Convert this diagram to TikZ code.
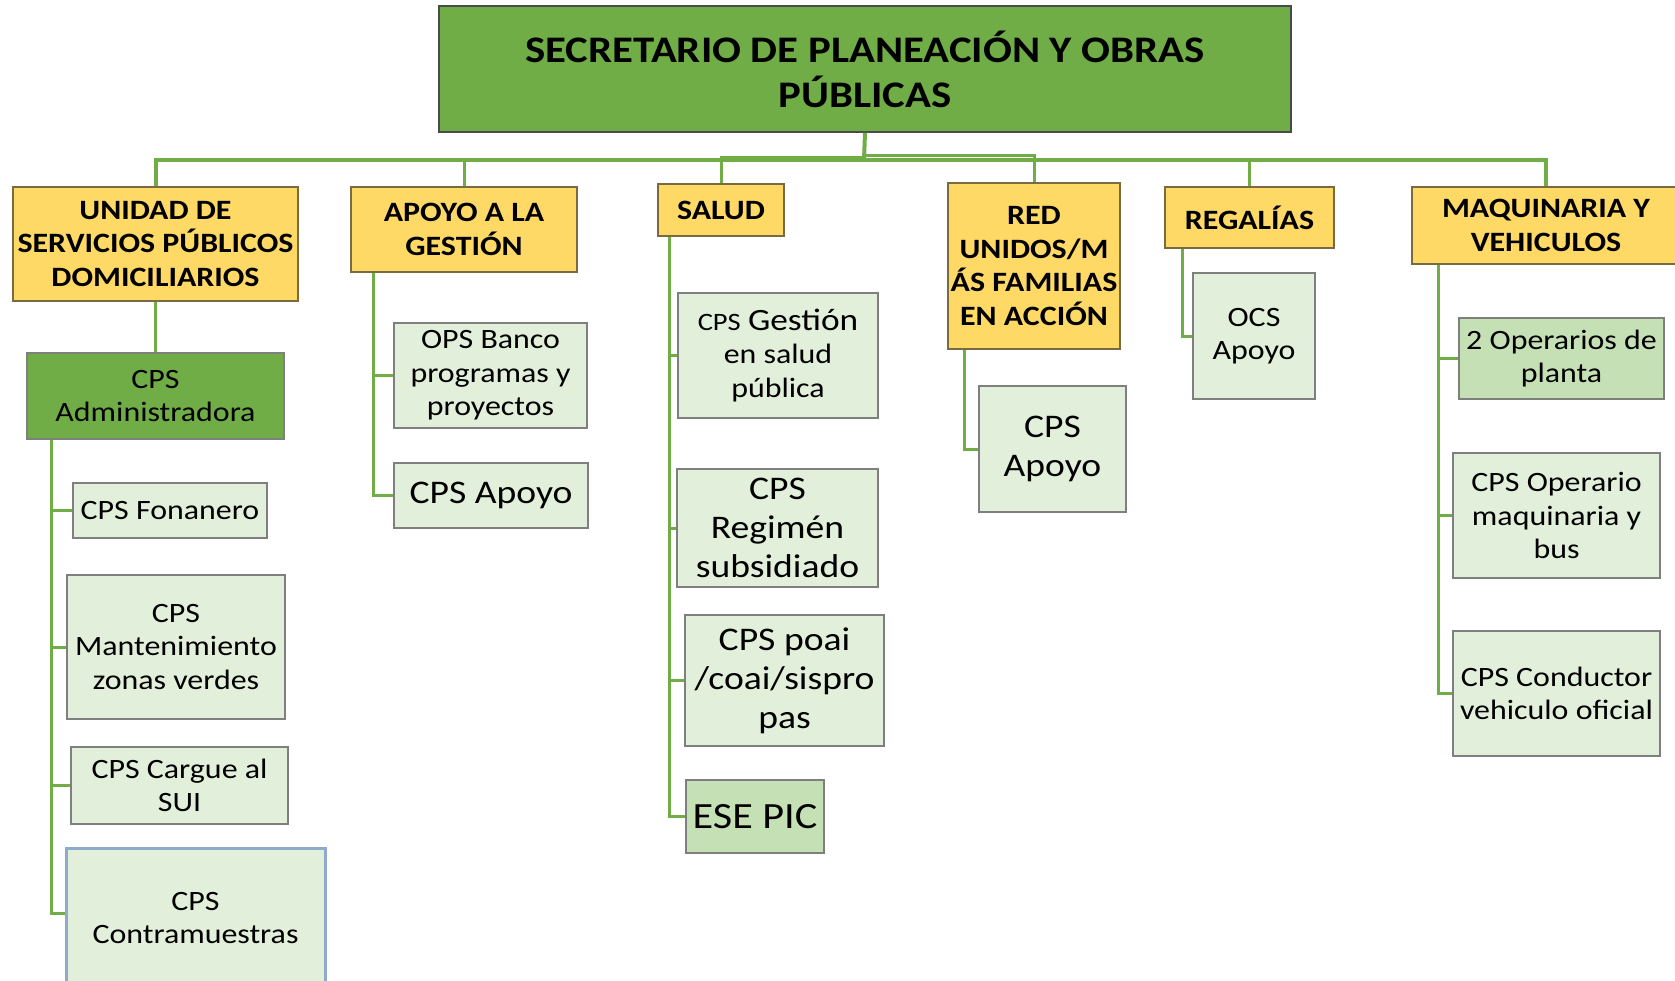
\documentclass[tikz,border=0pt]{standalone}
\usepackage{fontspec}
\setmainfont{Carlito}[FakeStretch=1.14]
\usetikzlibrary{positioning,calc}
\definecolor{cJefe}{HTML}{70AD47}
\definecolor{cJefeLine}{HTML}{4A4A4A}
\definecolor{cArea}{HTML}{FFD966}
\definecolor{cAreaLine}{HTML}{7A6A40}
\definecolor{cCargo}{HTML}{E2EFDA}
\definecolor{cCargoDark}{HTML}{C5E0B4}
\definecolor{cCargoLine}{HTML}{7F7F7F}
\definecolor{cBlueLine}{HTML}{8EA9C9}
\definecolor{cLink}{HTML}{70AD47}

\begin{document}
\begin{tikzpicture}[
    x=1pt, y=-1pt,
    jefe/.style={rectangle, draw=cJefeLine, fill=cJefe, line width=1.5pt, inner sep=2pt, align=center, font=\fontsize{37.5}{45}\selectfont\bfseries},
    area/.style={rectangle, draw=cAreaLine, fill=cArea, line width=1.3pt, inner sep=1pt, align=center, font=\fontsize{28}{33.5}\selectfont\bfseries},
    cargo/.style={rectangle, draw=cCargoLine, fill=#1, line width=1.3pt, inner sep=1pt, align=center, font=\fontsize{28}{33.5}\selectfont},
    cargo/.default={cCargo},
    big/.style={font=\fontsize{33}{39}\selectfont},
    link/.style={draw=cLink, line width=3pt},
    bus/.style={draw=cLink, line width=4pt},
]

\clip (0,0) rectangle (1675,980);
\fill[white] (0,0) rectangle (1675,980);

% Secretario
\node[jefe, minimum width=852pt, minimum height=126pt] (top) at (865,69) {SECRETARIO DE PLANEACIÓN Y OBRAS\\PÚBLICAS};

% Areas
\node[area, minimum width=285pt, minimum height=114pt] (unidad) at (155.5,244) {UNIDAD DE\\SERVICIOS PÚBLICOS\\DOMICILIARIOS};
\node[area, minimum width=226pt, minimum height=85pt] (apoyo) at (464,229.5) {APOYO A LA\\GESTIÓN};
\node[area, minimum width=126pt, minimum height=52pt] (salud) at (721,210) {SALUD};
\node[area, minimum width=172pt, minimum height=166pt] (red) at (1034,266) {RED\\UNIDOS/M\\ÁS FAMILIAS\\EN ACCIÓN};
\node[area, minimum width=169pt, minimum height=61pt] (regalias) at (1249.5,217.5) {REGALÍAS};
\node[area, minimum width=268pt, minimum height=77pt] (maquinaria) at (1546,225.5) {MAQUINARIA Y\\VEHICULOS};

% Bus to areas
\coordinate (bus) at (864,160);
\draw[bus] (top.south) -- (bus);
\draw[bus] (unidad.north) |- (maquinaria.north |- bus) -- (maquinaria.north);
\draw[link] (apoyo.north) -- (apoyo.north |- bus);
\draw[link] (regalias.north) -- (regalias.north |- bus);
\draw[link] (salud.north) |- ([yshift=3pt]bus);
\draw[link] (bus) -- ++(0,-5) -| (red.north);

% Unidad de servicios publicos
\node[cargo=cJefe, minimum width=257pt, minimum height=86pt] (admin) at (155.5,396) {CPS\\Administradora};
\node[cargo, minimum width=194pt, minimum height=55pt] (fonanero) at (170,510.5) {CPS Fonanero};
\node[cargo, minimum width=218pt, minimum height=144pt] (mant) at (176,647) {CPS\\Mantenimiento\\zonas verdes};
\node[cargo, minimum width=217pt, minimum height=77pt] (sui) at (179.5,785.5) {CPS Cargue al\\SUI};
\node[cargo, draw=cBlueLine, line width=3pt, minimum width=259pt, minimum height=140pt] (contra) at (195.5,918) {CPS\\Contramuestras};
\draw[link] (unidad.south) -- (admin.north);
\draw[link] ([xshift=25pt]admin.south west) |- (fonanero.west);
\draw[link] ([xshift=25pt]admin.south west) |- (mant.west);
\draw[link] ([xshift=25pt]admin.south west) |- (sui.west);
\draw[link] ([xshift=25pt]admin.south west) |- ([yshift=5pt]contra.west);

% Apoyo a la gestion
\node[cargo, minimum width=193pt, minimum height=105pt] (banco) at (490.5,375.5) {OPS Banco\\programas y\\proyectos};
\node[cargo, big, minimum width=194pt, minimum height=65pt] (apoyoA) at (491,495.5) {CPS Apoyo};
\draw[link] ([xshift=23pt]apoyo.south west) |- (banco.west);
\draw[link] ([xshift=23pt]apoyo.south west) |- (apoyoA.west);

% Salud
\node[cargo, minimum width=200pt, minimum height=125pt] (gestion) at (778,355.5) {{\fontsize{25}{30}\selectfont CPS} {\fontsize{31}{36}\selectfont Gestión}\\en salud\\pública};
\node[cargo, big, minimum width=201pt, minimum height=118pt] (regimen) at (777.5,528) {CPS\\Regimén\\subsidiado};
\node[cargo, big, minimum width=199pt, minimum height=131pt] (poai) at (784.5,680.5) {CPS poai\\/coai/sispro\\pas};
\node[cargo=cCargoDark, font=\fontsize{37}{44}\selectfont, minimum width=138pt, minimum height=73pt] (pic) at (755,816.5) {ESE PIC};
\draw[link] ([xshift=12pt]salud.south west) |- (gestion.west);
\draw[link] ([xshift=12pt]salud.south west) |- (regimen.west);
\draw[link] ([xshift=12pt]salud.south west) |- (poai.west);
\draw[link] ([xshift=12pt]salud.south west) |- (pic.west);

% Red unidos
\node[cargo, big, minimum width=147pt, minimum height=126pt] (apoyoR) at (1052.5,449) {CPS\\Apoyo};
\draw[link] ([xshift=17pt]red.south west) |- (apoyoR.west);

% Regalias
\node[cargo, minimum width=122pt, minimum height=126pt] (ocs) at (1254,336) {OCS\\Apoyo};
\draw[link] ([xshift=18pt]regalias.south west) |- (ocs.west);

% Maquinaria y vehiculos
\node[cargo=cCargoDark, minimum width=205pt, minimum height=81pt] (planta) at (1561.5,358.5) {2 Operarios de\\planta};
\node[cargo, minimum width=207pt, minimum height=125pt] (operario) at (1556.5,515.5) {CPS Operario\\maquinaria y\\bus};
\node[cargo, minimum width=207pt, minimum height=125pt] (conductor) at (1556.5,693.5) {CPS Conductor\\vehiculo oficial};
\draw[link] ([xshift=27pt]maquinaria.south west) |- (planta.west);
\draw[link] ([xshift=27pt]maquinaria.south west) |- (operario.west);
\draw[link] ([xshift=27pt]maquinaria.south west) |- (conductor.west);

\end{tikzpicture}
\end{document}
